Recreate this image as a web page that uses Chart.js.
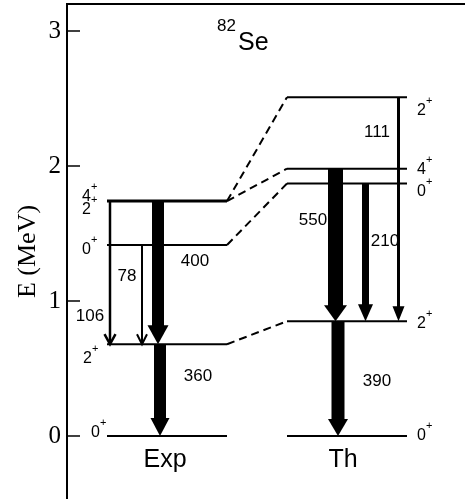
<!DOCTYPE html>
<html>
<head>
<meta charset="utf-8">
<script src="https://cdn.jsdelivr.net/npm/chart.js@4"></script>
<style>
  html, body { margin: 0; padding: 0; background: #fff; }
  canvas { display: block; }
</style>
</head>
<body>
<canvas id="levels" width="465" height="499"></canvas>
<script>
// Level energies (MeV) and spins
const expEnergies = [0, 0.68, 1.415, 1.74];
const expSpins = ['0+', '2+', '0+', '4+ 2+'];
const thEnergies = [0, 0.85, 1.87, 1.98, 2.51];
const thSpins = ['0+', '2+', '0+', '4+', '2+'];

// dashed correspondences: exp level index -> th level index
const linkExp = [1, 2, 3, 3];
const linkTh = [1, 2, 3, 4];

// transitions (level indices) and B(E2) values
const expFrom = [3, 2, 3, 1];
const expTo = [1, 1, 1, 0];
const expBE2 = [106, 78, 400, 360];
const thFrom = [4, 3, 2, 1];
const thTo = [1, 1, 1, 0];
const thBE2 = [111, 550, 210, 390];

const yTicks = [0, 1, 2, 3];

// --- layout only (x in axis units) ---
const EXP_COL = [40, 160];
const TH_COL = [220, 340];
const expArrowX = [43, 75, 91, 93];
const thArrowX = [331.5, 268.5, 298.5, 271];
const expArrowW = [2.5, 2, 12, 12];
const thArrowW = [3, 15, 7, 13];
const expHead = [[11, 10], [10, 10], [21, 19], [19, 18]];
const thHead = [[12, 15], [23, 16], [15, 17], [20, 17]];
const expLabelAt = [[23, 0.889], [60, 1.185], [128, 1.296], [131, 0.444]];
const thLabelAt = [[310, 2.252], [246, 1.6], [318, 1.444], [310, 0.407]];
// spin labels: x (axis units), baseline offset (px below level)
const expSpinX = [24, 16, 15, 15];
const expSpinDy = [1, 19, 9, 0];
const thSpinX = [350, 350, 350, 350, 350];
const thSpinDy = [4, 7, 12, 5, 18];

const SANS = '"Liberation Sans", Arial, sans-serif';
const SERIF = '"Liberation Serif", "Times New Roman", serif';

// level lines
const datasets = [];
expEnergies.forEach((e, i) => {
    datasets.push({
        data: [{ x: EXP_COL[0], y: e }, { x: EXP_COL[1], y: e }],
        borderWidth: i === 3 ? 3 : 2
    });
});
thEnergies.forEach(e => {
    datasets.push({
        data: [{ x: TH_COL[0], y: e }, { x: TH_COL[1], y: e }],
        borderWidth: 2
    });
});
linkExp.forEach((ei, k) => {
    datasets.push({
        data: [{ x: EXP_COL[1], y: expEnergies[ei] }, { x: TH_COL[0], y: thEnergies[linkTh[k]] }],
        borderWidth: 2,
        borderDash: [8, 5]
    });
});
datasets.forEach(d => {
    d.showLine = true;
    d.pointRadius = 0;
    d.borderColor = '#000';
    d.fill = false;
});

function drawSpin(ctx, spin, x, y) {
    ctx.textAlign = 'left';
    ctx.textBaseline = 'alphabetic';
    ctx.font = '16px ' + SANS;
    const j = spin.slice(0, -1);
    ctx.fillText(j, x, y);
    const w = ctx.measureText(j).width;
    ctx.font = '11px ' + SANS;
    ctx.fillText(spin.slice(-1), x + w, y - 11);
}

function drawArrow(ctx, x, yTop, yTip, w, head) {
    const [hw, hl] = head;
    if (w < 3) {
        ctx.lineWidth = w;
        ctx.beginPath();
        ctx.moveTo(x, yTop);
        ctx.lineTo(x, yTip - 1);
        ctx.stroke();
        ctx.beginPath();
        ctx.moveTo(x - hw / 2, yTip - hl);
        ctx.lineTo(x, yTip);
        ctx.lineTo(x + hw / 2, yTip - hl);
        ctx.stroke();
        return;
    }
    ctx.fillRect(x - w / 2, yTop, w, yTip - hl - yTop + 1);
    ctx.beginPath();
    ctx.moveTo(x - hw / 2, yTip - hl);
    ctx.lineTo(x + hw / 2, yTip - hl);
    ctx.lineTo(x, yTip);
    ctx.closePath();
    ctx.fill();
}

const schemePlugin = {
    id: 'scheme',
    afterDatasetsDraw(chart) {
        const ctx = chart.ctx;
        const xs = chart.scales.x, ys = chart.scales.y;
        const area = chart.chartArea;
        const px = v => xs.getPixelForValue(v);
        const py = v => ys.getPixelForValue(v);
        ctx.save();
        ctx.fillStyle = '#000';
        ctx.strokeStyle = '#000';

        // top frame line and inward ticks
        ctx.lineWidth = 2;
        ctx.beginPath();
        ctx.moveTo(area.left, area.top);
        ctx.lineTo(area.right, area.top);
        ctx.stroke();
        ctx.lineWidth = 1.5;
        yTicks.forEach(v => {
            ctx.beginPath();
            ctx.moveTo(area.left, py(v));
            ctx.lineTo(area.left + 13, py(v));
            ctx.stroke();
        });

        // transition values
        ctx.font = '17px ' + SANS;
        ctx.textAlign = 'center';
        ctx.textBaseline = 'middle';
        expBE2.forEach((b, i) => ctx.fillText(String(b), px(expLabelAt[i][0]), py(expLabelAt[i][1])));
        thBE2.forEach((b, i) => ctx.fillText(String(b), px(thLabelAt[i][0]), py(thLabelAt[i][1])));

        // arrows
        expBE2.forEach((b, i) => drawArrow(ctx, px(expArrowX[i]),
            py(expEnergies[expFrom[i]]), py(expEnergies[expTo[i]]), expArrowW[i], expHead[i]));
        thBE2.forEach((b, i) => drawArrow(ctx, px(thArrowX[i]),
            py(thEnergies[thFrom[i]]), py(thEnergies[thTo[i]]), thArrowW[i], thHead[i]));

        // spins
        expSpins.forEach((s, i) => {
            s.split(' ').forEach((p, k) => drawSpin(ctx, p, px(expSpinX[i]), py(expEnergies[i]) + expSpinDy[i] + 13 * k));
        });
        thSpins.forEach((s, i) => drawSpin(ctx, s, px(thSpinX[i]), py(thEnergies[i]) + thSpinDy[i]));

        // column names and nucleus
        ctx.textAlign = 'center';
        ctx.textBaseline = 'alphabetic';
        ctx.font = '25px ' + SANS;
        ctx.fillText('Exp', px((EXP_COL[0] + EXP_COL[1]) / 2 - 2), py(-0.23));
        ctx.fillText('Th', px((TH_COL[0] + TH_COL[1]) / 2 - 4), py(-0.23));
        ctx.textAlign = 'left';
        ctx.font = '17px ' + SANS;
        ctx.fillText('82', px(150), py(3.0));
        ctx.font = '25px ' + SANS;
        ctx.fillText('Se', px(171), py(2.86));
        ctx.restore();
    }
};

new Chart(document.getElementById('levels'), {
    type: 'scatter',
    data: { datasets },
    options: {
        responsive: false,
        animation: false,
        layout: { padding: { top: 4, right: 0, bottom: 0, left: 0 } },
        plugins: { legend: { display: false }, tooltip: { enabled: false } },
        scales: {
            x: { type: 'linear', min: 0, max: 398, display: false },
            y: {
                type: 'linear',
                min: -0.4667,
                max: 3.2,
                afterFit(scale) {
                    scale.width = 67;
                    scale.paddingTop = 0;
                    scale.paddingBottom = 0;
                },
                grid: { display: false, drawTicks: false },
                border: { display: true, color: '#000', width: 2 },
                ticks: {
                    stepSize: 1,
                    includeBounds: false,
                    padding: 6,
                    color: '#000',
                    font: { family: SERIF, size: 25 },
                    callback: v => (Number.isInteger(v) ? v : '')
                },
                title: {
                    display: true,
                    text: 'E (MeV)',
                    color: '#000',
                    font: { family: SERIF, size: 26 },
                    padding: { top: 13, bottom: 0 }
                }
            }
        }
    },
    plugins: [schemePlugin]
});
</script>
</body>
</html>
